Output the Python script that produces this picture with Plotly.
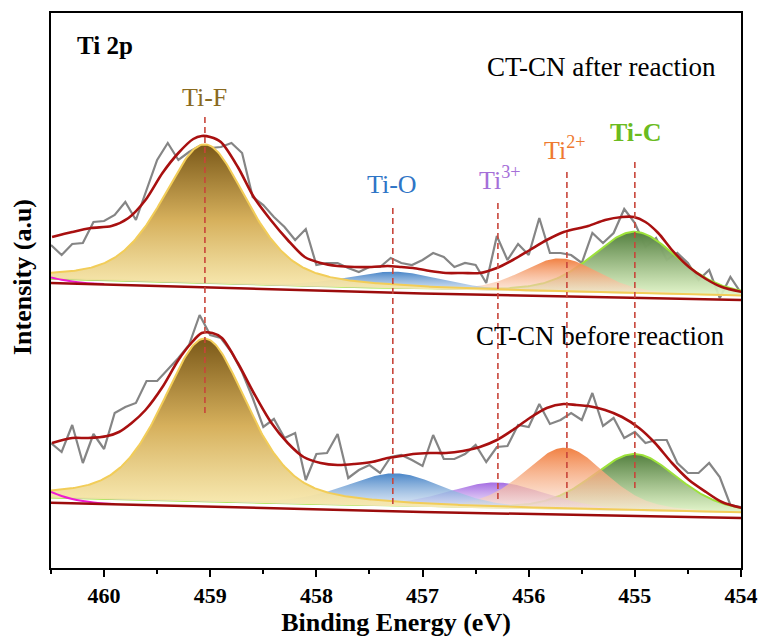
import numpy as np
import plotly.graph_objects as go

FONT = "Liberation Serif, Times New Roman, serif"

# ---------------- data ----------------
energy = [round(460.5 - 0.1 * i, 1) for i in range(66)]  # eV sampling grid of raw spectra

raw_after = [323, 313, 324, 325, 346, 347, 353, 366, 348, 378,
             408, 425, 408, 416, 422, 420, 421, 425, 415, 371,
             363, 351, 341, 328, 339, 303, 305, 305, 300, 296,
             301, 301, 310, 305, 303, 308, 315, 311, 301, 305,
             303, 285, 332, 308, 324, 313, 350, 315, 315, 313,
             305, 335, 325, 335, 359, 345, 321, 330, 308, 315,
             305, 288, 298, 270, 291, 275]

raw_before = [125, 116, 143, 105, 134, 119, 155, 161, 165, 187,
              187, 198, 210, 223, 253, 233, 230, 216, 196, 170,
              141, 149, 130, 135, 88, 114, 115, 134, 90, 98,
              103, 95, 111, 113, 108, 102, 133, 109, 109, 114,
              123, 106, 121, 122, 143, 141, 164, 144, 148, 155,
              148, 175, 142, 150, 130, 136, 125, 128, 128, 105,
              95, 95, 105, 91, 63, 61]

env_after_E = [460.49, 460.30, 460.12, 459.93, 459.77, 459.61, 459.45, 459.30, 459.16, 459.08,
               459.00, 458.90, 458.74, 458.59, 458.43, 458.27, 458.11, 457.96, 457.80, 457.64,
               457.48, 457.33, 457.20, 457.09, 456.93, 456.78, 456.62, 456.46, 456.30, 456.15,
               455.99, 455.83, 455.67, 455.44, 455.28, 455.12, 455.01, 454.90, 454.78, 454.65,
               454.49, 454.33, 454.18, 453.99]
env_after_I = [331, 336, 340, 342, 350, 368, 395, 415, 429, 432,
               431, 426, 401, 371, 348, 328, 311, 305, 302, 301,
               301, 302, 301, 300, 297, 295, 295, 295, 300, 308,
               318, 328, 336, 342, 348, 351, 351, 346, 335, 318,
               301, 289, 281, 276]

env_before_E = [460.49, 460.30, 460.15, 459.97, 459.86, 459.74, 459.61, 459.45, 459.30, 459.17,
                459.08, 458.98, 458.89, 458.74, 458.59, 458.43, 458.27, 458.12, 457.96, 457.80,
                457.64, 457.48, 457.33, 457.20, 457.09, 456.93, 456.78, 456.62, 456.46, 456.30,
                456.15, 455.99, 455.83, 455.67, 455.55, 455.44, 455.28, 455.12, 454.96, 454.81,
                454.65, 454.49, 454.33, 454.18, 453.99]
env_before_I = [125, 130, 130, 132, 136, 145, 158, 181, 208, 226,
                235, 235, 230, 205, 175, 146, 125, 111, 105, 103,
                104, 106, 110, 112, 114, 115, 115, 117, 121, 128,
                138, 150, 160, 164, 163, 162, 158, 151, 140, 125,
                105, 88, 76, 66, 60]

base_E = [460.5, 457.0, 454.0]
base_after_I = [285, 274.5, 268]
base_before_I = [65.3, 56, 50]

mag_after_E = [460.5, 460.4, 460.3, 460.2, 460.1, 460.0]
mag_after_I = [290.5, 288.2, 286.5, 285.2, 284.4, 283.9]
mag_before_E = [460.5, 460.4, 460.3, 460.2, 460.1, 460.0, 459.9]
mag_before_I = [76, 72, 69, 67, 65.5, 64.6, 64.0]

# fitted components (drawing order)
peak_names = ["Ti-C", "Ti3+", "Ti2+", "Ti-O", "Ti-F"]
center_after = [455.0, 456.3, 455.7, 457.25, 459.05]
height_after = [62, 3, 34, 17, 139]
fwhm_after = [0.95, 1.0, 0.85, 1.05, 0.95]
center_before = [455.0, 456.3, 455.66, 457.25, 459.05]
height_before = [57, 26, 62, 33, 163]
fwhm_before = [0.95, 1.1, 0.9, 1.1, 0.95]
lorentz_frac = [0.3, 0.3, 0.3, 0.3, 0.45]
floor_after = 4
floor_before = 5

# marker (dashed) lines
dash_E = [459.05, 457.28, 456.29, 455.64, 455.0]
dash_top = [451, 360, 365, 396, 406]
dash_bottom = [155, 64, 68, 68, 77]

# ---------------- styles ----------------
fill_scales = {
    "Ti-F": [[0, "rgba(251,238,180,0.92)"], [0.5, "rgb(214,176,92)"], [1, "rgb(122,88,24)"]],
    "Ti-O": [[0, "rgba(226,236,248,0.55)"], [1, "rgb(74,134,200)"]],
    "Ti3+": [[0, "rgba(244,234,252,0.55)"], [1, "rgb(164,108,226)"]],
    "Ti2+": [[0, "rgba(253,232,218,0.55)"], [1, "rgb(241,128,66)"]],
    "Ti-C": [[0, "rgba(226,246,200,0.92)"], [1, "rgb(84,128,64)"]],
}
outline = {"Ti-F": "#f2cd58", "Ti-C": "#9de23a"}

fig = go.Figure()

# raw data (behind components)
for ys in (raw_after, raw_before):
    fig.add_trace(go.Scatter(x=energy, y=ys, mode="lines",
                             line=dict(color="#858585", width=2.2), hoverinfo="skip"))

xs = np.linspace(460.5, 454.0, 500)


def pv(x, c, h, w, m):
    r2 = ((x - c) / w) ** 2
    return h * ((1 - m) * np.exp(-4 * np.log(2) * r2) + m / (1 + 4 * r2))


for centers, heights, fwhms, base_I, off in (
        (center_after, height_after, fwhm_after, base_after_I, floor_after),
        (center_before, height_before, fwhm_before, base_before_I, floor_before)):
    floor = np.interp(xs[::-1], base_E[::-1], base_I[::-1])[::-1] + off
    for name, c, h, w, m in zip(peak_names, centers, heights, fwhms, lorentz_frac):
        top = floor + pv(xs, c, h, w, m)
        fig.add_trace(go.Scatter(
            x=np.concatenate([xs, xs[::-1]]), y=np.concatenate([top, floor[::-1]]),
            mode="lines", fill="toself", line=dict(width=0),
            fillgradient=dict(type="vertical", colorscale=fill_scales[name]),
            hoverinfo="skip"))
        if name in outline:
            fig.add_trace(go.Scatter(x=xs, y=top, mode="lines",
                                     line=dict(color=outline[name], width=2), hoverinfo="skip"))

# magenta components at the left edge
for ex, ey in ((mag_after_E, mag_after_I), (mag_before_E, mag_before_I)):
    fig.add_trace(go.Scatter(x=ex, y=ey, mode="lines", line=dict(color="#ee1cd0", width=2, shape="spline"),
                             hoverinfo="skip"))

# backgrounds
for bi in (base_after_I, base_before_I):
    fig.add_trace(go.Scatter(x=base_E, y=bi, mode="lines", line=dict(color="#9c0c0c", width=2.5),
                             hoverinfo="skip"))

# envelopes
for ex, ey in ((env_after_E, env_after_I), (env_before_E, env_before_I)):
    fig.add_trace(go.Scatter(x=ex, y=ey, mode="lines",
                             line=dict(color="#a81010", width=2.6, shape="spline", smoothing=0.8),
                             hoverinfo="skip"))

# dashed guide lines
for e, y0, y1 in zip(dash_E, dash_top, dash_bottom):
    fig.add_trace(go.Scatter(x=[e, e], y=[y0, y1], mode="lines",
                             line=dict(color="#c8453a", width=1.6, dash="6px,4px"), hoverinfo="skip"))

# ---------------- annotations ----------------
ann = [
    dict(x=460.27, y=523, text="<b>Ti 2p</b>", xanchor="left", color="black", size=25),
    dict(x=459.05, y=471, text="Ti-F", xanchor="center", color="#8a6a1e", size=26),
    dict(x=457.29, y=384, text="Ti-O", xanchor="center", color="#2f75c6", size=26),
    dict(x=456.27, y=390, text="Ti<sup>3+</sup>", xanchor="center", color="#a56fd8", size=26),
    dict(x=455.66, y=420, text="Ti<sup>2+</sup>", xanchor="center", color="#ee7a30", size=26),
    dict(x=454.99, y=436, text="<b>Ti-C</b>", xanchor="center", color="#6bbb20", size=26),
    dict(x=454.22, y=501, text="CT-CN after reaction", xanchor="right", color="black", size=27),
    dict(x=454.14, y=232, text="CT-CN before reaction", xanchor="right", color="black", size=27),
]
for a in ann:
    fig.add_annotation(x=a["x"], y=a["y"], xref="x", yref="y", text=a["text"], showarrow=False,
                       xanchor=a["xanchor"], yanchor="middle",
                       font=dict(family=FONT, size=a["size"], color=a["color"]))

# y-axis title (placed as in the reference, slightly above centre)
fig.add_annotation(x=22, y=(639 - 277) / 639, xref="paper", yref="paper", text="<b>Intensity (a.u)</b>",
                   showarrow=False, textangle=-90, xanchor="center", yanchor="middle",
                   font=dict(family=FONT, size=26, color="black"))
fig.layout.annotations[-1].update(x=(22 - 51) / 690, xref="paper",
                                  y=(568 - 277) / 555, yref="paper")

fig.update_layout(
    width=762, height=639,
    margin=dict(l=51, r=21, t=13, b=71, autoexpand=False),
    paper_bgcolor="white", plot_bgcolor="white",
    showlegend=False,
    xaxis=dict(range=[460.5, 454.0], dtick=1, tick0=454, showgrid=False, zeroline=False,
               showline=True, mirror=True, linecolor="black", linewidth=2, automargin=False,
               ticks="outside", ticklen=7, tickwidth=2, tickcolor="black",
               minor=dict(dtick=0.5, ticks="outside", ticklen=4, tickwidth=2, tickcolor="black"),
               tickfont=dict(family=FONT, size=22, color="black", weight="bold"),
               title=dict(text="Binding Energy (eV)", standoff=2,
                          font=dict(family=FONT, size=26, color="black", weight="bold"))),
    yaxis=dict(range=[0, 555], showticklabels=False, ticks="", showgrid=False, zeroline=False,
               showline=True, mirror=True, linecolor="black", linewidth=2, automargin=False),
)

fig.write_html("out.html")
